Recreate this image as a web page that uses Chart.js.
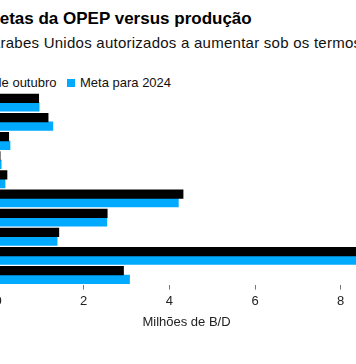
<!DOCTYPE html>
<html>
<head>
<meta charset="utf-8">
<script src="https://cdn.jsdelivr.net/npm/chart.js@4/dist/chart.umd.min.js"></script>
<style>
  html, body { margin:0; padding:0; background:#fff; }
  body { position:relative; width:356px; height:364px; overflow:hidden; font-family:"Liberation Sans", Arial, sans-serif; color:#000; }
  .t { position:absolute; white-space:nowrap; }
  #title { font-weight:bold; font-size:17px; line-height:17px; top:9.9px; right:104.3px; }
  #sub { font-size:15px; line-height:15px; top:34.6px; left:0; color:#111; letter-spacing:0.25px; }
  .leg { position:absolute; font-size:13px; line-height:13px; top:76px; display:flex; align-items:flex-start; white-space:nowrap; color:#111; }
  .sq { width:8.5px; height:8.5px; margin-top:2.7px; margin-right:4.8px; }
  #wrap { position:absolute; left:-122.35px; top:0; width:527px; height:364px; }
</style>
</head>
<body>
<div id="title" class="t">Metas da OPEP versus produção</div>
<div id="sub" class="t"><span id="pre">Emirados Á</span>rabes Unidos autorizados a aumentar sob os termos do acordo</div>
<div class="leg" id="leg1" style="right:299.5px;"><div class="sq" style="background:#000"></div><span>Produção de outubro</span></div>
<div class="leg" id="leg2" style="left:66.7px;"><div class="sq" style="background:#00aaff"></div><span>Meta para 2024</span></div>
<div id="wrap"><canvas id="c"></canvas></div>
<script>
const categories = ["Argélia", "Angola", "Congo", "Guiné Equatorial", "Gabão", "Iraque", "Kuwait", "Nigéria", "Arábia Saudita", "Emirados Árabes Unidos"];
const productionOctober = [0.95, 1.17, 0.25, 0.05, 0.21, 4.32, 2.55, 1.42, 9.0, 2.93];
const target2024 = [0.96, 1.28, 0.28, 0.075, 0.165, 4.21, 2.54, 1.38, 10.48, 3.07];
const seriesLabels = ["Produção de outubro", "Meta para 2024"];
const xTicks = [0, 2, 4, 6, 8];
const axisTitle = "Milhões de B/D";

// shift subtitle so the visible part starts like the reference
const pre = document.getElementById('pre');
document.getElementById('sub').style.left = (0.5 - pre.getBoundingClientRect().width) + 'px';

new Chart(document.getElementById('c'), {
  type: 'bar',
  data: {
    labels: categories,
    datasets: [
      { label: seriesLabels[0], data: productionOctober, backgroundColor: '#000000', borderWidth: 0, barThickness: 8.6 },
      { label: seriesLabels[1], data: target2024, backgroundColor: '#00aaff', borderWidth: 0, barThickness: 8.6 }
    ]
  },
  options: {
    indexAxis: 'y',
    responsive: true,
    maintainAspectRatio: false,
    animation: false,
    layout: { padding: { top: 93.1, right: 30, bottom: 0, left: 0 } },
    plugins: { legend: { display: false }, title: { display: false }, tooltip: { enabled: false } },
    scales: {
      x: {
        type: 'linear',
        min: 0,
        max: 8.8,
        afterFit: s => { s.height = 364 - 284.6; },
        afterBuildTicks: s => { s.ticks = xTicks.map(v => ({ value: v })); },
        grid: { display: true, drawOnChartArea: false, drawTicks: true, tickLength: 5, color: '#777', lineWidth: 1 },
        border: { display: false },
        ticks: { includeBounds: false, padding: 4, color: '#222', font: { family: '"Liberation Sans", Arial, sans-serif', size: 13 } },
        title: { display: true, text: axisTitle, color: '#222', padding: { top: 0, bottom: 33.5 }, font: { family: '"Liberation Sans", Arial, sans-serif', size: 13 } }
      },
      y: {
        type: 'category',
        afterFit: s => { s.width = 120; },
        grid: { display: false },
        border: { display: false },
        ticks: { color: '#222', font: { family: '"Liberation Sans", Arial, sans-serif', size: 13 } }
      }
    }
  }
});
</script>
</body>
</html>
